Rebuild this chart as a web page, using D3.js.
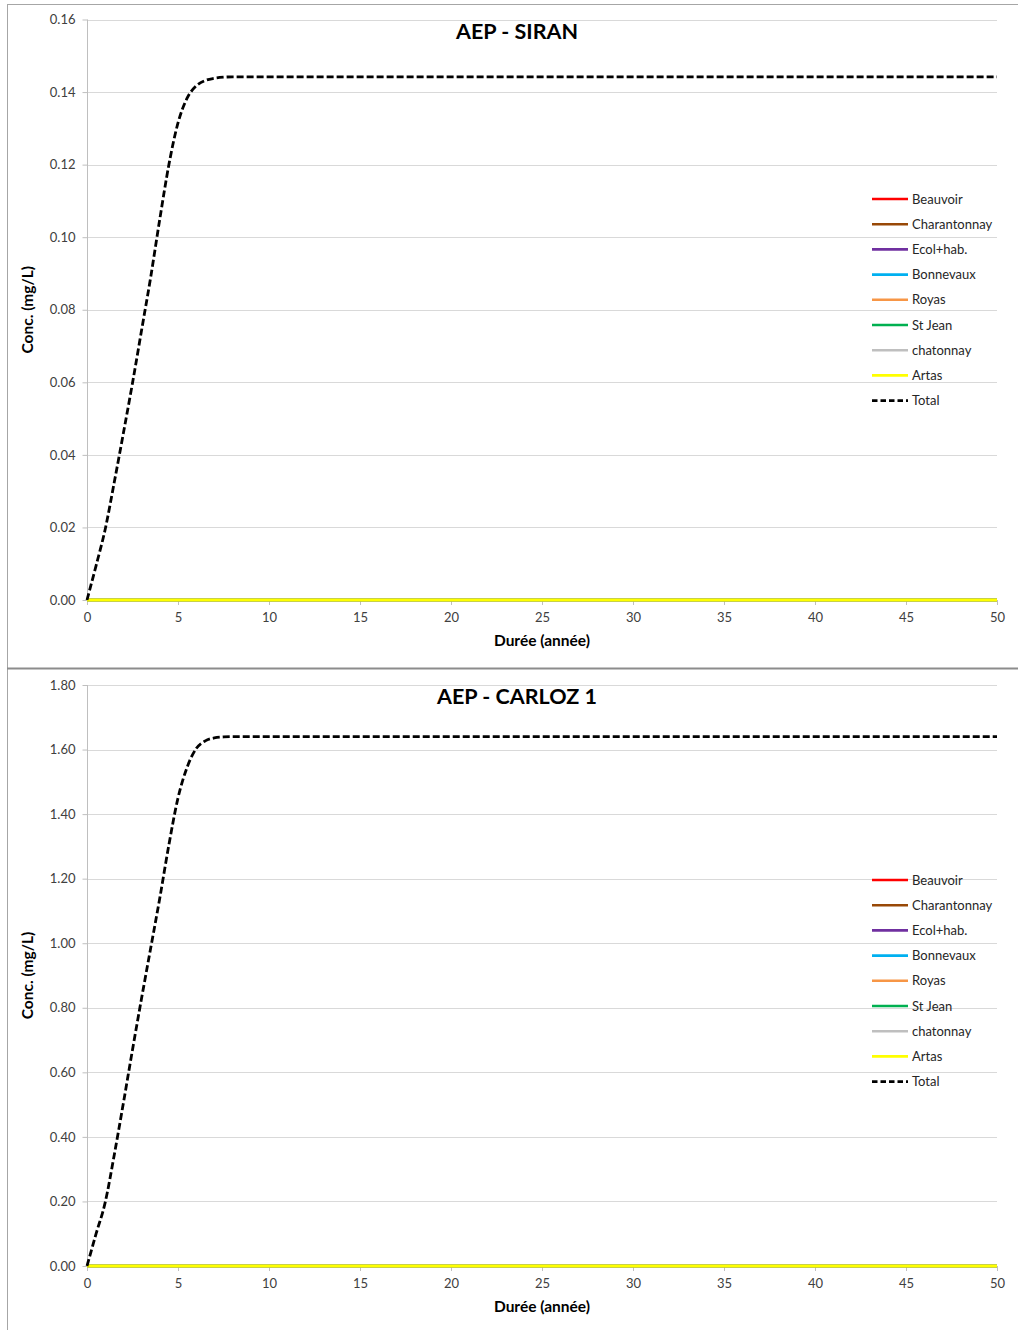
<!DOCTYPE html>
<html>
<head>
<meta charset="utf-8">
<script src="https://cdn.jsdelivr.net/npm/d3@7"></script>
<style>
  html, body { margin: 0; padding: 0; background: #fff; }
  svg { display: block; font-family: Lato, "Open Sans", sans-serif; }
</style>
</head>
<body>
<svg id="chart" width="1018" height="1330"></svg>
<script>
// ---------- DATA ----------
const seriesNames = ["Beauvoir", "Charantonnay", "Ecol+hab.", "Bonnevaux", "Royas", "St Jean", "chatonnay", "Artas", "Total"];

// years at which the source series are tabulated
const sourceYears = [0, 10, 20, 30, 40, 50];
// individual sources (all read as zero on both charts)
const siranBeauvoir     = [0, 0, 0, 0, 0, 0];
const siranCharantonnay = [0, 0, 0, 0, 0, 0];
const siranEcolHab      = [0, 0, 0, 0, 0, 0];
const siranBonnevaux    = [0, 0, 0, 0, 0, 0];
const siranRoyas        = [0, 0, 0, 0, 0, 0];
const siranStJean       = [0, 0, 0, 0, 0, 0];
const siranChatonnay    = [0, 0, 0, 0, 0, 0];
const siranArtas        = [0, 0, 0, 0, 0, 0];

const carlozBeauvoir     = [0, 0, 0, 0, 0, 0];
const carlozCharantonnay = [0, 0, 0, 0, 0, 0];
const carlozEcolHab      = [0, 0, 0, 0, 0, 0];
const carlozBonnevaux    = [0, 0, 0, 0, 0, 0];
const carlozRoyas        = [0, 0, 0, 0, 0, 0];
const carlozStJean       = [0, 0, 0, 0, 0, 0];
const carlozChatonnay    = [0, 0, 0, 0, 0, 0];
const carlozArtas        = [0, 0, 0, 0, 0, 0];

// total curve
const totalYears  = [0, 0.5, 1, 1.5, 2, 2.5, 3, 3.5, 4, 4.5, 5, 5.5, 6, 6.5, 7, 7.5, 8, 10, 15, 20, 25, 30, 35, 40, 45, 50];
const siranTotal  = [0, 0.0095, 0.0195, 0.0325, 0.046, 0.0598, 0.0744, 0.089, 0.105, 0.120, 0.1315, 0.1383, 0.1417, 0.1432, 0.1438, 0.1441, 0.1442, 0.1442, 0.1442, 0.1442, 0.1442, 0.1442, 0.1442, 0.1442, 0.1442, 0.1442];
const carlozTotal = [0, 0.100, 0.197, 0.345, 0.505, 0.670, 0.830, 0.985, 1.140, 1.305, 1.450, 1.545, 1.603, 1.627, 1.636, 1.639, 1.640, 1.640, 1.640, 1.640, 1.640, 1.640, 1.640, 1.640, 1.640, 1.640];

const xTicks = [0, 5, 10, 15, 20, 25, 30, 35, 40, 45, 50];
const siranYTicks  = [0, 0.02, 0.04, 0.06, 0.08, 0.10, 0.12, 0.14, 0.16];
const carlozYTicks = [0, 0.2, 0.4, 0.6, 0.8, 1.0, 1.2, 1.4, 1.6, 1.8];

const titles = ["AEP - SIRAN", "AEP - CARLOZ 1"];
const xAxisTitle = "Durée (année)";
const yAxisTitle = "Conc. (mg/L)";

// ---------- STYLE ----------
const colors = {
  "Beauvoir": "#FF0000", "Charantonnay": "#984807", "Ecol+hab.": "#7030A0",
  "Bonnevaux": "#00B0F0", "Royas": "#F79646", "St Jean": "#00B050",
  "chatonnay": "#BFBFBF", "Artas": "#FFFF00", "Total": "#000000"
};

const svg = d3.select("#chart");

// frame lines
svg.append("line").attr("x1", 7).attr("x2", 1018).attr("y1", 4.5).attr("y2", 4.5).attr("stroke", "#a6a6a6").attr("stroke-width", 1);
svg.append("line").attr("x1", 7.5).attr("x2", 7.5).attr("y1", 4).attr("y2", 1330).attr("stroke", "#a6a6a6").attr("stroke-width", 1);
svg.append("line").attr("x1", 7).attr("x2", 1018).attr("y1", 668.5).attr("y2", 668.5).attr("stroke", "#8c8c8c").attr("stroke-width", 2);

function drawChart(cfg) {
  const g = svg.append("g");
  const x = d3.scaleLinear().domain([0, 50]).range([87, 997]);
  const y = d3.scaleLinear().domain([0, cfg.yMax]).range([cfg.bottom, cfg.top]);

  // gridlines
  g.append("g").selectAll("line").data(cfg.yTicks.filter(v => v > 0)).join("line")
    .attr("x1", 87).attr("x2", 997)
    .attr("y1", d => Math.round(y(d)) + 0.5).attr("y2", d => Math.round(y(d)) + 0.5)
    .attr("stroke", "#d9d9d9").attr("stroke-width", 1);

  // y axis
  const yAxis = d3.axisLeft(y).tickValues(cfg.yTicks).tickFormat(d3.format(".2f")).tickSize(5).tickPadding(7);
  const ya = g.append("g").attr("transform", "translate(87.5,0)").call(yAxis);
  ya.select(".domain").attr("stroke", "#bfbfbf").attr("d", `M0,${cfg.top}V${cfg.bottom}`);
  ya.selectAll(".tick line").attr("stroke", "#bfbfbf");
  ya.selectAll(".tick text").attr("fill", "#404040").style("font-size", "13px").style("font-family", "Lato, sans-serif");

  // x axis
  const xAxis = d3.axisBottom(x).tickValues(xTicks).tickFormat(d3.format("d")).tickSize(5).tickPadding(8);
  const xa = g.append("g").attr("transform", `translate(0,${cfg.bottom})`).call(xAxis);
  xa.select(".domain").attr("stroke", "none");
  xa.selectAll(".tick line").attr("stroke", "#bfbfbf");
  xa.selectAll(".tick text").attr("fill", "#404040").style("font-size", "13px").style("font-family", "Lato, sans-serif");

  // source series
  const line = d3.line().x(d => x(d[0])).y(d => y(d[1])).curve(d3.curveMonotoneX);
  cfg.sources.forEach((vals, i) => {
    const name = seriesNames[i];
    g.append("path").datum(sourceYears.map((yr, j) => [yr, vals[j]]))
      .attr("d", line).attr("fill", "none")
      .attr("stroke", colors[name]).attr("stroke-width", name === "Artas" ? 3.2 : 2.4);
  });
  // total
  g.append("path").datum(totalYears.map((yr, j) => [yr, cfg.total[j]]))
    .attr("d", line).attr("fill", "none")
    .attr("stroke", colors["Total"]).attr("stroke-width", 2.8)
    .attr("stroke-dasharray", "7,3");

  // title
  g.append("text").attr("x", 517).attr("y", cfg.top + 19).attr("text-anchor", "middle")
    .style("font-size", "21.5px").style("font-weight", "bold").attr("fill", "#000").text(cfg.title);

  // axis titles
  g.append("text").attr("x", 542).attr("y", cfg.bottom + 46).attr("text-anchor", "middle")
    .style("font-size", "15.5px").style("font-weight", "bold").attr("fill", "#000").text(xAxisTitle);
  g.append("text").attr("transform", `translate(33,${(cfg.top + cfg.bottom) / 2}) rotate(-90)`)
    .attr("text-anchor", "middle")
    .style("font-size", "15.5px").style("font-weight", "bold").attr("fill", "#000").text(yAxisTitle);

  // legend
  const lg = g.append("g");
  seriesNames.forEach((name, i) => {
    const ly = cfg.legendTop + i * 25.2;
    lg.append("line").attr("x1", 872).attr("x2", 908).attr("y1", ly).attr("y2", ly)
      .attr("stroke", colors[name]).attr("stroke-width", 2.6)
      .attr("stroke-dasharray", name === "Total" ? "5.5,3" : null);
    lg.append("text").attr("x", 912).attr("y", ly + 4.5)
      .style("font-size", "13px").attr("fill", "#262626").text(name);
  });
}

drawChart({
  title: titles[0], top: 19.5, bottom: 600, yMax: 0.16, yTicks: siranYTicks,
  sources: [siranBeauvoir, siranCharantonnay, siranEcolHab, siranBonnevaux, siranRoyas, siranStJean, siranChatonnay, siranArtas],
  total: siranTotal, legendTop: 199
});
drawChart({
  title: titles[1], top: 685, bottom: 1266, yMax: 1.8, yTicks: carlozYTicks,
  sources: [carlozBeauvoir, carlozCharantonnay, carlozEcolHab, carlozBonnevaux, carlozRoyas, carlozStJean, carlozChatonnay, carlozArtas],
  total: carlozTotal, legendTop: 880
});
</script>
</body>
</html>
